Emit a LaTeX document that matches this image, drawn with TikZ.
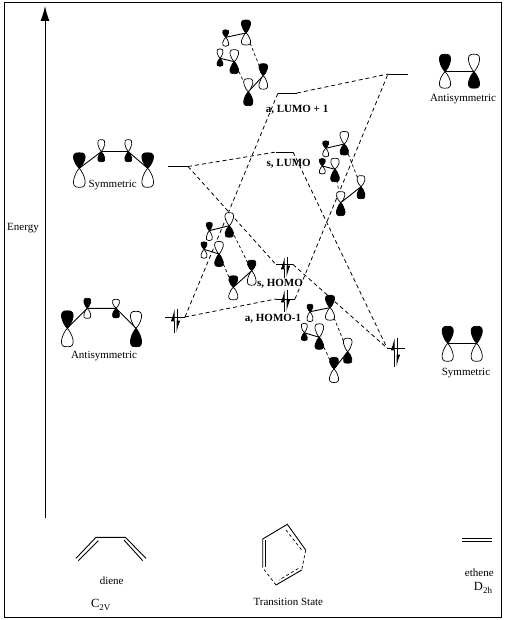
\documentclass[tikz,border=0pt]{standalone}
\usepackage{fontspec}
\setmainfont{Liberation Serif}
\usetikzlibrary{arrows.meta}
\newcommand{\lobepair}[6]{\begin{scope}[shift={(#1)}]\draw[lobe,fill=#5] (0,0) .. controls (-.35*#4,-.2*#2) and (-.95*#4,-1.06*#2) .. (0,-#2) .. controls (.95*#4,-1.06*#2) and (.35*#4,-.2*#2) .. (0,0);\draw[lobe,fill=#6] (0,0) .. controls (-.35*#4,.2*#3) and (-.95*#4,1.06*#3) .. (0,#3) .. controls (.95*#4,1.06*#3) and (.35*#4,.2*#3) .. (0,0);\end{scope}}
\begin{document}
\begin{tikzpicture}[x=1pt,y=-1pt,font=\fontsize{11}{13}\selectfont,level/.style={line width=.9pt},link/.style={line width=.8pt,dash pattern=on 4pt off 3pt},thinlink/.style={line width=.7pt,dash pattern=on 3pt off 2.5pt},bond/.style={line width=.9pt},lobe/.style={line width=.7pt},spinup/.style={line width=1pt,-{Latex[length=10pt,width=6.5pt,left]}},label/.style={font=\fontsize{11}{13}\selectfont\bfseries,inner sep=0pt},symmetry/.style={font=\fontsize{12.5}{14}\selectfont}]
\useasboundingbox (0,0) rectangle (505,620);
\draw[line width=1pt] (4,3) rectangle (501.5,617);
\coordinate (axisbase) at (45,518);
\coordinate (axistip) at (45,6);
\draw[line width=1pt,-{Latex[length=15pt,width=9pt]}] (axisbase) -- (axistip);
\node (energy) at (23,228) {Energy};
\foreach \n/\p in {dl1/{168,166.5},dl2/{188,166.5},al1/{165,317},al2/{185,317},lp1/{278,93},lp2/{297,93},lu1/{276,152},lu2/{293,152},ho1/{276,264.5},ho2/{293,264.5},hm1/{276,299},hm2/{295,299},ar1/{388,74},ar2/{408,74},sr1/{387,348},sr2/{405,348}} \coordinate (\n) at (\p);
\foreach \a/\b in {dl1/dl2,al1/al2,lp1/lp2,lu1/lu2,ho1/ho2,hm1/hm2,ar1/ar2,sr1/sr2} \draw[level] (\a) -- (\b);
\foreach \a/\b in {dl2/lu1,dl2/ho1,al2/hm1,al2/lp1,lp2/ar1,lu2/sr1,ho2/sr1,hm2/ar1} \draw[link] (\a) -- (\b);
\foreach \n/\p in {ua/{246,33},ub/{225.7,37.3},uc/{220,58.3},ud/{234.3,61.7},ue/{263.3,75.7},uf/{248.3,91.7},va/{344.3,144},vb/{325.7,148.3},vc/{322.3,166},vd/{335,169.3},ve/{361,186.7},vf/{340.7,202.7},ha/{229.3,225.7},hb/{209.3,230.7},hc/{204,249.3},hd/{219,254},he/{251.7,270.7},hf/{233.3,287.3},ka/{330,307.7},kb/{310,311.7},kc/{304.3,332.7},kd/{319.3,337.3},ke/{347.7,351.7},kf/{334,369}} \coordinate (\n) at (\p);
\foreach \o in {u,v,h,k}{\draw[bond] (\o a) -- (\o b);\draw[bond] (\o c) -- (\o d);\draw[bond] (\o e) -- (\o f);\draw[thinlink] (\o a) -- (\o e);\draw[thinlink] (\o d) -- (\o f);}
\lobepair{ua}{13}{12}{9}{black}{white}
\lobepair{ub}{7.5}{9}{6}{black}{white}
\lobepair{uc}{9.5}{8}{6}{white}{black}
\lobepair{ud}{12}{12}{8.5}{white}{black}
\lobepair{ue}{12}{13.5}{8.5}{black}{white}
\lobepair{uf}{13}{14}{9}{white}{black}
\lobepair{va}{12.5}{11}{8.5}{white}{black}
\lobepair{vb}{7.5}{8.5}{6}{black}{white}
\lobepair{vc}{7.5}{8}{6}{black}{white}
\lobepair{vd}{11}{12.5}{8.5}{white}{black}
\lobepair{ve}{11}{12}{8}{white}{black}
\lobepair{vf}{11}{13}{8.5}{white}{black}
\lobepair{ha}{13}{11.5}{8.5}{white}{black}
\lobepair{hb}{8.5}{10}{6}{black}{white}
\lobepair{hc}{7.5}{9}{6}{black}{white}
\lobepair{hd}{12.5}{12.5}{8.5}{white}{black}
\lobepair{he}{10.5}{14.5}{8.5}{black}{white}
\lobepair{hf}{11.5}{12.5}{9}{black}{white}
\lobepair{ka}{12.5}{12.5}{9}{black}{white}
\lobepair{kb}{7.5}{10}{6}{black}{white}
\lobepair{kc}{9.5}{8}{6}{white}{black}
\lobepair{kd}{13.5}{12}{8.5}{white}{black}
\lobepair{ke}{13.5}{11.5}{8.5}{white}{black}
\lobepair{kf}{11.5}{13.5}{9}{black}{white}
\foreach \n/\p in {sa/{79.3,168.3},sb/{101.3,151.7},sc/{128.3,151.7},sd/{147.7,168.3},ta/{67.3,328.3},tb/{87.3,308.3},tc/{116,308.3},td/{136,328.3},pa/{445,71.7},pb/{474,71.7},qa/{447.7,343.3},qb/{476.7,343.3}} \coordinate (\n) at (\p);
\draw[bond] (sa) -- (sb);\draw[bond,line width=1.4pt] (sb) -- (sc);\draw[bond] (sc) -- (sd);
\draw[bond] (ta) -- (tb) -- (tc) -- (td);
\draw[bond] (pa) -- (pb);
\draw[bond] (qa) -- (qb);
\lobepair{sa}{15.5}{19}{11.5}{black}{white}
\lobepair{sb}{12}{10}{7}{white}{black}
\lobepair{sc}{12}{10}{7}{white}{black}
\lobepair{sd}{15.5}{19}{11.5}{black}{white}
\lobepair{ta}{17.5}{18.5}{11.5}{black}{white}
\lobepair{tb}{10}{10}{7}{black}{white}
\lobepair{tc}{9}{9.5}{7}{white}{black}
\lobepair{td}{17}{18.5}{11}{white}{black}
\lobepair{pa}{17.5}{16.5}{11}{black}{white}
\lobepair{pb}{17.5}{16.5}{11}{white}{black}
\lobepair{qa}{17}{18}{11}{black}{white}
\lobepair{qb}{17}{18}{11}{black}{white}
\foreach \x/\t/\b in {174/309/333,177/333/309,394/338/367,397/367/338,284/257/278,287/278/257,284/290/312,287/312/290}{\coordinate (from) at (\x,\t);\coordinate (to) at (\x,\b);\draw[spinup] (to) -- (from);}
\node (symleft) at (112.7,185) {Symmetric};
\node (antileft) at (104,356) {Antisymmetric};
\node (antiright) at (463,99.3) {Antisymmetric};
\node (symright) at (466,373.3) {Symmetric};
\node[label] (lumoplus) at (297,110) {a, LUMO + 1};
\node[label] (lumo) at (288.7,163.5) {s, LUMO};
\node[label] (homo) at (280,284) {s, HOMO};
\node[label] (homominus) at (273,319) {a, HOMO-1};
\foreach \n/\p in {d1/{76,558.3},d2/{96,537.3},d3/{125.3,537.3},d4/{146,558.3},d5/{78.3,560.7},d6/{98.3,540.7},d7/{124,540},d8/{142.7,560.7}} \coordinate (\n) at (\p);
\draw[bond] (d1) -- (d2) -- (d3) -- (d4);
\draw[bond] (d5) -- (d6);
\draw[bond] (d7) -- (d8);
\node (diene) at (111.7,580.3) {diene};
\node[symmetry] (ctwov) at (100.7,605) {C\raisebox{-3pt}{\fontsize{9}{9}\selectfont 2V}};
\foreach \n/\p in {t1/{262.7,539},t2/{287.3,524.3},t3/{305.7,550},t4/{301.7,570},t5/{276,585},t6/{262.7,567.7},i1/{265.5,540},i6/{265.5,566.5},i2/{286,530},i3/{301.7,550},i4/{298.3,568.5},i5/{279,580}} \coordinate (\n) at (\p);
\draw[bond] (t6) -- (t1) -- (t2) -- (t3);
\draw[bond] (t4) -- (t5);
\draw[bond] (i1) -- (i6);
\draw[thinlink] (t3) -- (t4);
\draw[thinlink] (t5) -- (t6);
\draw[thinlink] (i2) -- (i3);
\draw[thinlink] (i4) -- (i5);
\node (transition) at (288.3,602.3) {Transition State};
\foreach \n/\p in {e1/{462.3,538.3},e2/{491.7,538.3},e3/{462.3,541.7},e4/{491.7,541.7}} \coordinate (\n) at (\p);
\draw[bond] (e1) -- (e2);
\draw[bond,line width=1.2pt] (e3) -- (e4);
\node (ethene) at (479.3,572.3) {ethene};
\node[symmetry] (dtwoh) at (483,588.3) {D\raisebox{-3pt}{\fontsize{9}{9}\selectfont 2h}};
\end{tikzpicture}
\end{document}
